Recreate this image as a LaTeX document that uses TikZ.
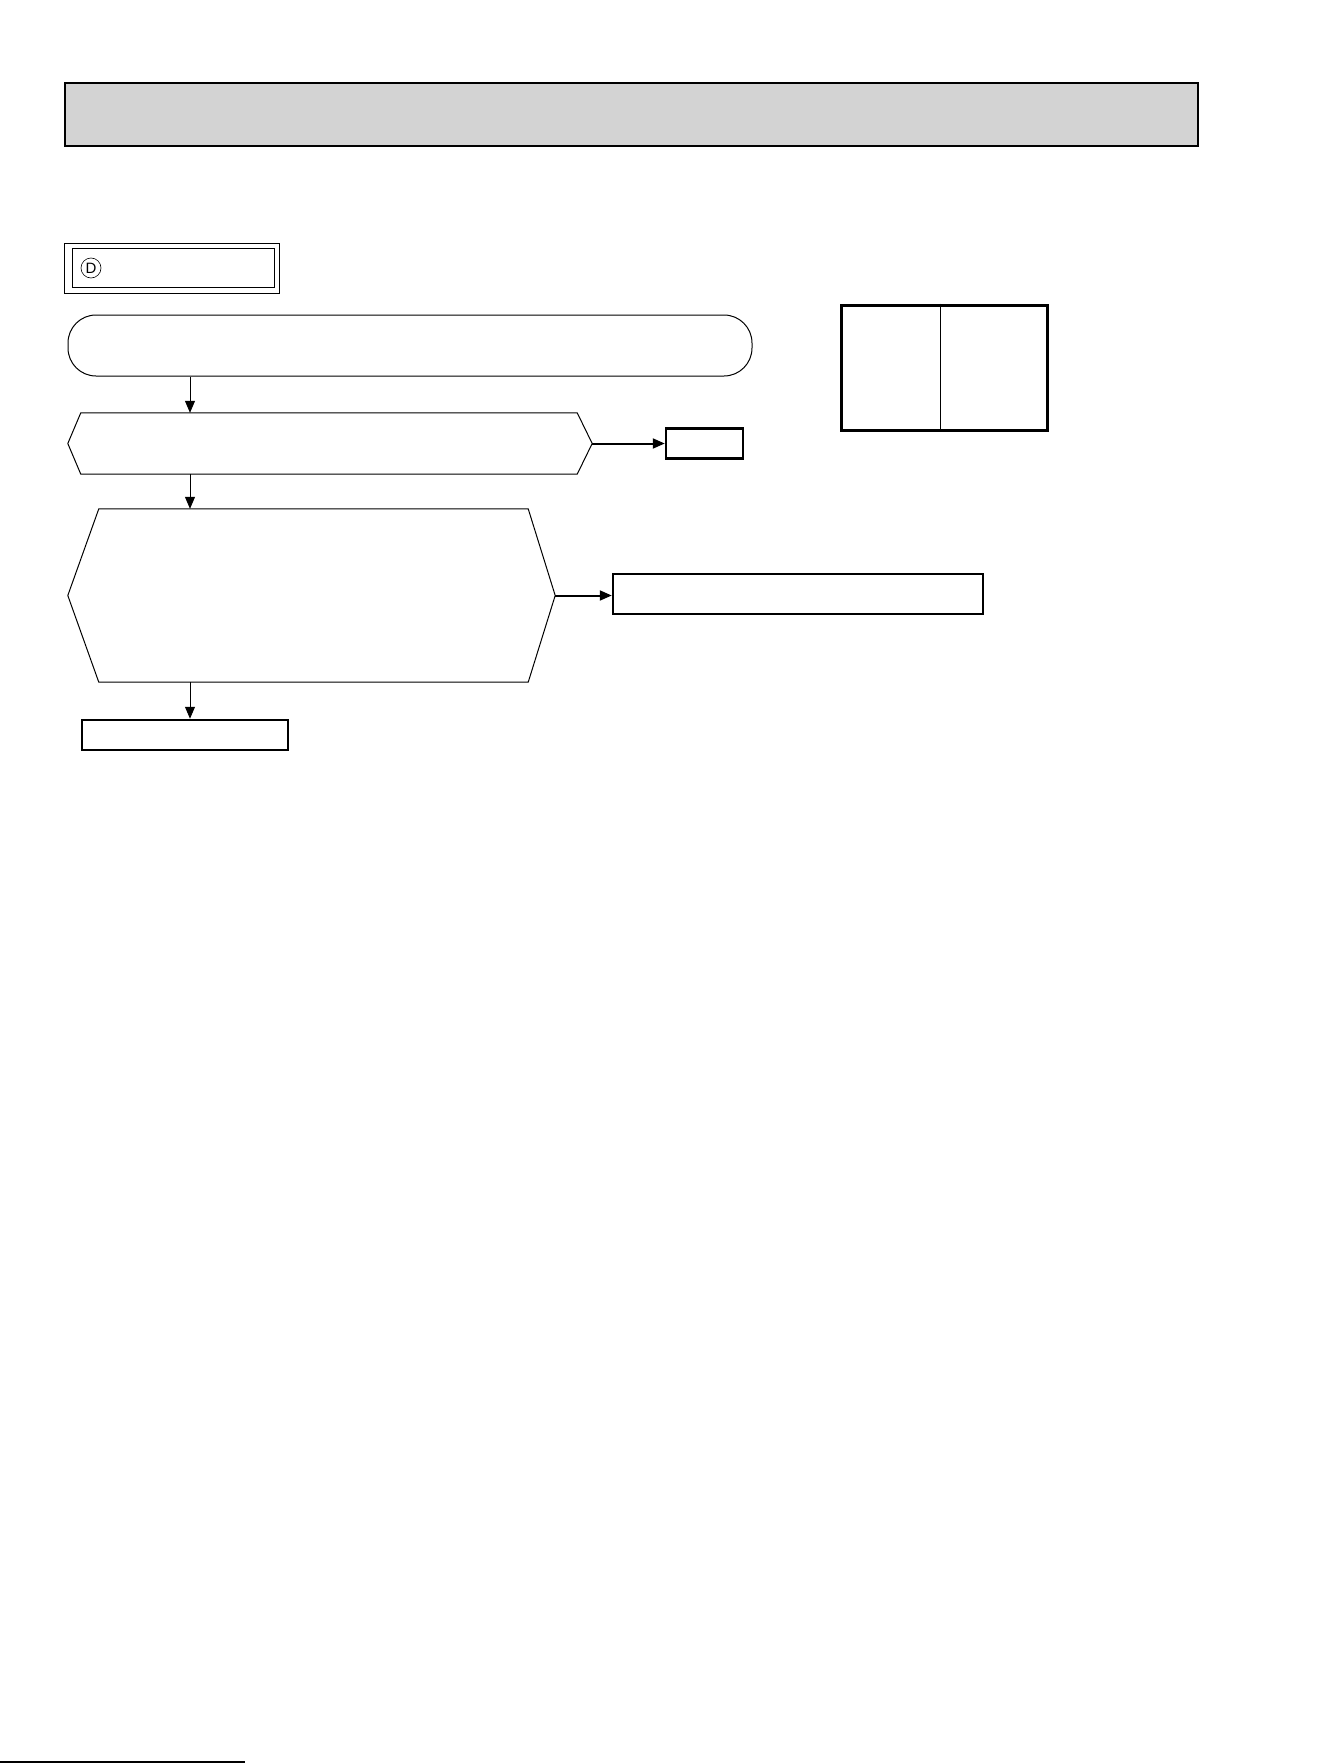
\documentclass[tikz,border=0pt]{standalone}
\usepackage{fontspec}
\setmainfont{Liberation Sans}
\usetikzlibrary{arrows.meta}
\definecolor{hdrgray}{RGB}{211,211,211}
\begin{document}
\begin{tikzpicture}[x=1pt, y=-1pt, inner sep=0pt,
  box/.style={draw, line width=#1, minimum width=0pt, minimum height=0pt},
  box/.default=1pt,
  flow/.style={-{Triangle[length=12pt, width=10pt]}, line width=1pt}]
\useasboundingbox (0,0) rectangle (1329,1763);
\node[box=2pt, fill=hdrgray, minimum width=1133pt, minimum height=63pt] (Head) at (631.5, 114.5) {};
\node[box, minimum width=215pt, minimum height=50pt] (CodeOut) at (172, 268) {};
\node[box, minimum width=202pt, minimum height=39pt] (CodeIn) at (173, 267.5) {};
\node[draw, circle, line width=0.6pt, minimum size=20pt, font=\fontsize{15}{15}\selectfont] (CodeD) at (91, 268) {D};
\node[box, rounded corners=28pt, minimum width=684pt, minimum height=61pt] (Start) at (410, 345.5) {};
\node[minimum width=496pt, minimum height=61pt] (AskA) at (329, 443.5) {};
\draw[line width=1pt] (AskA.north west) -- (AskA.north east) -- ([xshift=15pt]AskA.east) coordinate (AskAtip)
  -- (AskA.south east) -- (AskA.south west) -- ([xshift=-13pt]AskA.west) -- cycle;
\node[box=2.5pt, minimum width=77pt, minimum height=30pt] (Ok) at (704.5, 443.5) {};
\node[minimum width=429pt, minimum height=173pt] (AskB) at (313.5, 595.5) {};
\draw[line width=1pt] (AskB.north west) -- (AskB.north east) -- ([xshift=27pt]AskB.east) coordinate (AskBtip)
  -- (AskB.south east) -- (AskB.south west) -- ([xshift=-31pt]AskB.west) -- cycle;
\node[box=2.5pt, minimum width=370pt, minimum height=40pt] (Fix) at (798, 594) {};
\node[box=2.5pt, minimum width=206pt, minimum height=30pt] (Done) at (185, 735) {};
\node[box=3pt, minimum width=206pt, minimum height=125pt] (Tab) at (944, 367.5) {};
\draw[line width=1pt] (Tab.north -| 940,0) -- (Tab.south -| 940,0);
\coordinate (Axis) at (190, 0);
\draw[flow] (Start.south -| Axis) -- (AskA.north -| Axis);
\draw[flow] (AskA.south -| Axis) -- (AskB.north -| Axis);
\draw[flow] (AskB.south -| Axis) -- (Done.north -| Axis);
\draw[flow, line width=2pt] (AskAtip) -- (AskAtip -| Ok.west);
\draw[flow, line width=2pt] (AskBtip) -- (AskBtip -| Fix.west);
\draw[line width=1.5pt] (0, 1762) -- (245, 1762);
\end{tikzpicture}
\end{document}
